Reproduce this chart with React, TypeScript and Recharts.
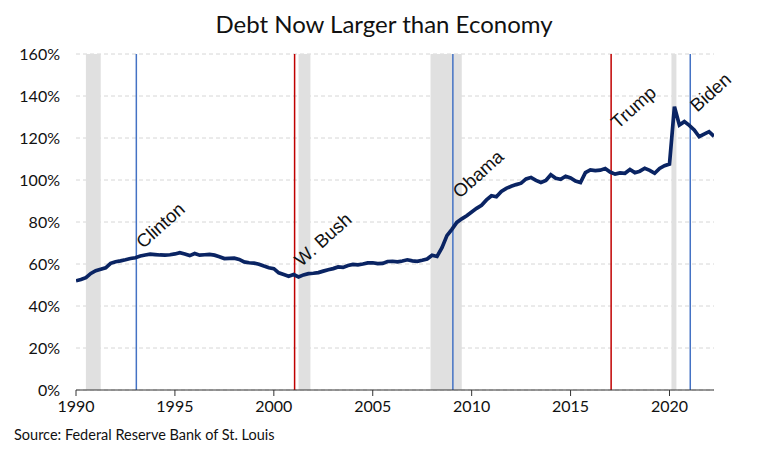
import React from "react";
import {
  LineChart,
  Line,
  XAxis,
  YAxis,
  CartesianGrid,
  ReferenceArea,
  ReferenceLine,
  ReferenceDot,
} from "recharts";

// Quarter start dates (decimal years) and debt-to-GDP values (%)
const quarters: number[] = [
  1990.0, 1990.25, 1990.5, 1990.75, 1991.0, 1991.25, 1991.5, 1991.75,
  1992.0, 1992.25, 1992.5, 1992.75, 1993.0, 1993.25, 1993.5, 1993.75,
  1994.0, 1994.25, 1994.5, 1994.75, 1995.0, 1995.25, 1995.5, 1995.75,
  1996.0, 1996.25, 1996.5, 1996.75, 1997.0, 1997.25, 1997.5, 1997.75,
  1998.0, 1998.25, 1998.5, 1998.75, 1999.0, 1999.25, 1999.5, 1999.75,
  2000.0, 2000.25, 2000.5, 2000.75, 2001.0, 2001.25, 2001.5, 2001.75,
  2002.0, 2002.25, 2002.5, 2002.75, 2003.0, 2003.25, 2003.5, 2003.75,
  2004.0, 2004.25, 2004.5, 2004.75, 2005.0, 2005.25, 2005.5, 2005.75,
  2006.0, 2006.25, 2006.5, 2006.75, 2007.0, 2007.25, 2007.5, 2007.75,
  2008.0, 2008.25, 2008.5, 2008.75, 2009.0, 2009.25, 2009.5, 2009.75,
  2010.0, 2010.25, 2010.5, 2010.75, 2011.0, 2011.25, 2011.5, 2011.75,
  2012.0, 2012.25, 2012.5, 2012.75, 2013.0, 2013.25, 2013.5, 2013.75,
  2014.0, 2014.25, 2014.5, 2014.75, 2015.0, 2015.25, 2015.5, 2015.75,
  2016.0, 2016.25, 2016.5, 2016.75, 2017.0, 2017.25, 2017.5, 2017.75,
  2018.0, 2018.25, 2018.5, 2018.75, 2019.0, 2019.25, 2019.5, 2019.75,
  2020.0, 2020.25, 2020.5, 2020.75, 2021.0, 2021.25, 2021.5, 2021.75,
  2022.0, 2022.25,
];

const debtToGdp: number[] = [
  52.0, 52.6, 53.5, 55.5, 56.8, 57.5, 58.2, 60.3,
  61.1, 61.5, 62.0, 62.6, 63.0, 63.8, 64.3, 64.7,
  64.5, 64.3, 64.2, 64.4, 64.8, 65.4, 64.8, 64.0,
  65.0, 64.2, 64.4, 64.6, 64.2, 63.5, 62.6, 62.7,
  62.8, 62.2, 61.0, 60.6, 60.4, 59.9, 59.0, 58.2,
  57.8, 55.8, 55.0, 54.2, 55.0, 53.8, 54.8, 55.4,
  55.6, 55.9, 56.6, 57.3, 57.8, 58.6, 58.4, 59.3,
  59.8, 59.6, 60.0, 60.5, 60.6, 60.2, 60.3, 61.2,
  61.3, 61.0, 61.4, 62.0, 61.5, 61.3, 61.8, 62.4,
  64.2, 63.6, 67.8, 73.5, 76.5, 79.8, 81.5, 83.0,
  84.8, 86.5, 88.0, 90.5, 92.5, 92.0, 94.5, 96.0,
  97.0, 97.8, 98.5, 100.5, 101.2, 99.8, 98.8, 99.8,
  102.5, 100.8, 100.3, 101.8, 101.0, 99.5, 98.8, 103.5,
  104.8, 104.5, 104.7, 105.5, 103.8, 102.8, 103.4, 103.2,
  105.0, 103.5, 104.2, 105.6, 104.6, 103.2, 105.5, 106.8,
  107.6, 134.9, 126.2, 127.8, 126.0, 123.8, 120.6, 121.8,
  123.0, 120.8,
];

const recessionStarts: number[] = [1990.5, 2001.25, 2007.92, 2020.1];
const recessionEnds: number[] = [1991.25, 2001.85, 2009.5, 2020.35];

const presidentNames: string[] = ["Clinton", "W. Bush", "Obama", "Trump", "Biden"];
const inaugurations: number[] = [1993.05, 2001.05, 2009.05, 2017.05, 2021.05];
const presidentParty: string[] = ["D", "R", "D", "R", "D"];
const labelLevels: number[] = [67, 58.5, 91, 124, 132];

const xTicks: number[] = [1990, 1995, 2000, 2005, 2010, 2015, 2020];
const yTicks: number[] = [0, 20, 40, 60, 80, 100, 120, 140, 160];

const chartData = quarters.map((q, i) => ({ date: q, value: debtToGdp[i] }));

const FONT = "Lato, 'Open Sans', sans-serif";

const PresLabel = (props: any) => {
  const { viewBox, value } = props;
  const x = viewBox.x + 7;
  const y = viewBox.y;
  return (
    <text
      x={x}
      y={y}
      transform={`rotate(-42 ${x} ${y})`}
      fontFamily="'Liberation Sans', Arial, sans-serif"
      fontSize={18.5}
      fill="#111"
      textAnchor="start"
    >
      {value}
    </text>
  );
};

export default function App() {
  return (
    <div
      style={{
        position: "absolute",
        left: 0,
        top: 0,
        width: 768,
        height: 464,
        background: "#fff",
        fontFamily: FONT,
      }}
    >
      <div
        style={{
          position: "absolute",
          left: 0,
          width: 768,
          top: 12,
          textAlign: "center",
          fontSize: 24,
          lineHeight: "24px",
          color: "#111",
        }}
      >
        Debt Now Larger than Economy
      </div>
      <LineChart
        width={768}
        height={464}
        data={chartData}
        margin={{ top: 54, right: 54, bottom: 44, left: 0 }}
      >
        <CartesianGrid
          vertical={false}
          stroke="#d6d6d6"
          strokeDasharray="4 3"
        />
        {recessionStarts.map((s, i) => (
          <ReferenceArea
            key={"r" + i}
            x1={s}
            x2={recessionEnds[i]}
            y1={0}
            y2={160}
            fill="#e0e0e0"
            fillOpacity={1}
            stroke="none"
            ifOverflow="visible"
          />
        ))}
        {inaugurations.map((d, i) => (
          <ReferenceLine
            key={"p" + i}
            x={d}
            stroke={presidentParty[i] === "D" ? "#4472c4" : "#c00000"}
            strokeWidth={1.5}
          />
        ))}
        <XAxis
          dataKey="date"
          type="number"
          domain={[1990, 2022.25]}
          ticks={xTicks}
          allowDataOverflow
          axisLine={{ stroke: "#333", strokeWidth: 1 }}
          tickLine={{ stroke: "#333" }}
          tickSize={6}
          tickMargin={5}
          height={30}
          tick={{ fontSize: 16, fill: "#111", fontFamily: FONT }}
        />
        <YAxis
          type="number"
          domain={[0, 160]}
          ticks={yTicks}
          width={76}
          axisLine={false}
          tickLine={false}
          tickSize={0}
          tickMargin={16}
          tickFormatter={(v: number) => `${v}%`}
          tick={{ fontSize: 16, fill: "#111", fontFamily: FONT }}
        />
        <Line
          type="linear"
          dataKey="value"
          stroke="#0a2463"
          strokeWidth={3.7}
          dot={false}
          isAnimationActive={false}
        />
        {inaugurations.map((d, i) => (
          <ReferenceDot
            key={"l" + i}
            x={d}
            y={labelLevels[i]}
            r={0}
            fill="none"
            stroke="none"
            label={<PresLabel value={presidentNames[i]} />}
          />
        ))}
      </LineChart>
      <div
        style={{
          position: "absolute",
          left: 14,
          top: 428,
          fontSize: 14.5,
          lineHeight: "14.5px",
          color: "#111",
        }}
      >
        Source: Federal Reserve Bank of St. Louis
      </div>
    </div>
  );
}
